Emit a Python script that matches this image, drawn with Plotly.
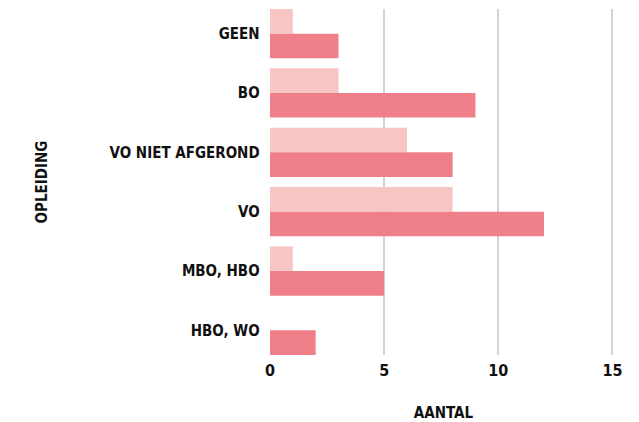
import plotly.graph_objects as go

categories = ["GEEN", "BO", "VO NIET AFGEROND", "VO", "MBO, HBO", "HBO, WO"]
series_light = [1, 3, 6, 8, 1, None]
series_dark = [3, 9, 8, 12, 5, 2]
x_ticks = [0, 5, 10, 15]

GAP = 0.17
FONT = "DejaVu Sans Condensed"

fig = go.Figure()
fig.add_trace(go.Bar(y=categories, x=series_light, orientation="h",
                     marker=dict(color="#F7C6C4", line=dict(width=0)), name="licht"))
fig.add_trace(go.Bar(y=categories, x=series_dark, orientation="h",
                     marker=dict(color="#EF8089", line=dict(width=0)), name="donker"))

# page body has an 8px default margin, so the figure is sized to fit the window
fig.update_layout(
    width=631, height=414,
    margin=dict(l=262, r=22, t=1, b=67),
    barmode="group", bargap=GAP, bargroupgap=0,
    plot_bgcolor="white", paper_bgcolor="white",
    showlegend=False,
    font=dict(family=FONT, size=15, color="#111111", weight="bold"),
)
fig.update_xaxes(
    range=[0, 15.2], tickvals=x_ticks, showgrid=True, gridcolor="#d3d3d3", gridwidth=2,
    zeroline=False, showline=False, ticks="", automargin=False, ticklabelstandoff=4,
    tickfont=dict(family=FONT, size=16, color="#111111", weight="bold"),
    title=dict(text="AANTAL", standoff=28, font=dict(family=FONT, size=15, weight="bold")),
)
fig.update_yaxes(
    range=[len(categories) - 0.5 - GAP / 2, -0.5 + GAP / 2],
    showgrid=False, zeroline=False, showline=False, ticks="", automargin=False,
    ticksuffix="  ",
    tickfont=dict(family=FONT, size=15, color="#111111", weight="bold"),
    title=dict(text="OPLEIDING", standoff=58, font=dict(family=FONT, size=15, weight="bold")),
)

fig.write_html("out.html")
